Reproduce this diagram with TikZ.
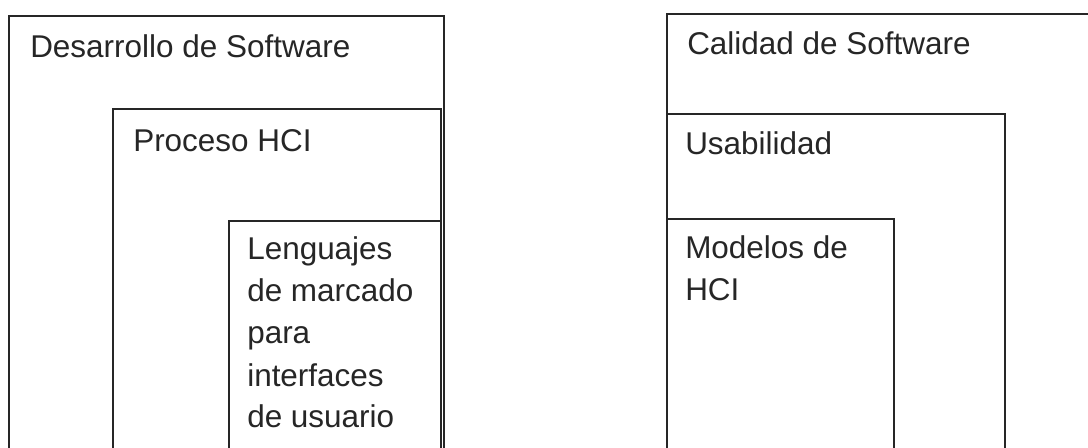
\documentclass[tikz,border=0pt]{standalone}
\usepackage{fontspec}
\setmainfont{Liberation Sans}
\begin{document}
\begin{tikzpicture}[x=0.75pt,y=-0.75pt,
  box/.style={draw=black!85, line width=1.3pt, rectangle, anchor=north west, inner sep=0pt, fill=none},
  lbl/.style={anchor=base west, inner sep=0pt, align=left, text=black!85,
    font=\fontsize{23.6pt}{31.5pt}\selectfont}]
\path[use as bounding box, fill=white] (0,0) rectangle (1088,448);
\clip (0,0) rectangle (1088,448);
% left group
\node[box, minimum width=326.25pt, minimum height=341.25pt] (dev) at (8,15) {};
\node[box, minimum width=246pt, minimum height=271.5pt] (hci) at (112,108) {};
\node[box, minimum width=159pt, minimum height=187.5pt] (leng) at (228,220) {};
% right group
\node[box, minimum width=325.5pt, minimum height=342.75pt] (cal) at (666,13) {};
\node[box, minimum width=253.5pt, minimum height=267.75pt] (usa) at (666,113) {};
\node[box, minimum width=170.25pt, minimum height=189pt] (mod) at (666,218) {};
% labels (multi-line: base anchor = last line's baseline)
\node[lbl] (tdev) at (30,58) {Desarrollo de Software};
\node[lbl] (thci) at (133,152) {Proceso HCI};
\node[lbl] (tleng) at (247,428) {Lenguajes\\de marcado\\para\\interfaces\\de usuario};
\node[lbl] (tcal) at (687,55) {Calidad de Software};
\node[lbl] (tusa) at (685,155) {Usabilidad};
\node[lbl] (tmod) at (685,301) {Modelos de\\HCI};
\end{tikzpicture}
\end{document}
